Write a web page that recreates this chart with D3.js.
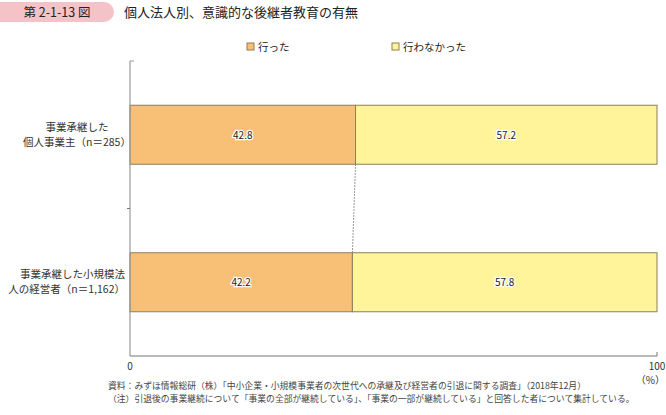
<!DOCTYPE html>
<html>
<head>
<meta charset="utf-8">
<script src="https://cdn.jsdelivr.net/npm/d3@7"></script>
<style>
  body { margin: 0; background: #fff; }
  text { font-family: "Noto Sans CJK JP", "Noto Sans", sans-serif; }
</style>
</head>
<body>
<svg width="666" height="415"></svg>
<script>
// chart data
const categories = [
    ["事業承継した", "個人事業主（n＝285）"],
    ["事業承継した小規模法", "人の経営者（n＝1,162）"]
];
const seriesNames = ["行った", "行わなかった"];
const didValues = [42.8, 42.2];
const didNotValues = [57.2, 57.8];
const xTicks = [0, 100];

const colors = ["#F8C077", "#FFF49A"];

const svg = d3.select("svg");

// title bar
svg.append("rect")
    .attr("x", -10).attr("y", 2)
    .attr("width", 124).attr("height", 20)
    .attr("rx", 10)
    .attr("fill", "#F4C3C8");
svg.append("text")
    .attr("x", 57).attr("y", 17)
    .attr("text-anchor", "middle")
    .style("font-size", "12.5px")
    .attr("fill", "#222")
    .text("第 2-1-13 図");
svg.append("text")
    .attr("x", 124).attr("y", 17)
    .style("font-size", "13px")
    .attr("fill", "#222")
    .text("個人法人別、意識的な後継者教育の有無");

const x = d3.scaleLinear().domain([0, 100]).range([130, 657]);
const y = d3.scaleBand().domain(d3.range(categories.length)).range([61, 356]).paddingInner(0.6).paddingOuter(0.3);

const stacked = didValues.map((d, i) => [
    { x0: 0, x1: d, v: d, s: 0 },
    { x0: d, x1: d + didNotValues[i], v: didNotValues[i], s: 1 }
]);

// connector lines between bars
for (let i = 0; i < categories.length - 1; i++) {
    svg.append("line")
        .attr("x1", x(didValues[i])).attr("y1", y(i) + y.bandwidth())
        .attr("x2", x(didValues[i + 1])).attr("y2", y(i + 1))
        .attr("stroke", "#777")
        .attr("stroke-width", 1)
        .attr("stroke-dasharray", "1.5,1.5");
}

const groups = svg.selectAll(".bar")
    .data(stacked)
    .enter().append("g")
    .attr("class", "bar");

groups.selectAll("rect")
    .data((d, i) => d.map(s => Object.assign({ row: i }, s)))
    .enter().append("rect")
    .attr("x", d => x(d.x0))
    .attr("y", d => y(d.row))
    .attr("width", d => x(d.x1) - x(d.x0))
    .attr("height", y.bandwidth())
    .attr("fill", d => colors[d.s])
    .attr("stroke", "#8C7F5C")
    .attr("stroke-width", 1);

groups.selectAll("text")
    .data((d, i) => d.map(s => Object.assign({ row: i }, s)))
    .enter().append("text")
    .attr("x", d => (x(d.x0) + x(d.x1)) / 2)
    .attr("y", d => y(d.row) + y.bandwidth() / 2 + 4)
    .attr("text-anchor", "middle")
    .style("font-size", "10px")
    .attr("fill", "#222")
    .attr("stroke", "#fff")
    .attr("stroke-width", 2.5)
    .attr("paint-order", "stroke")
    .text(d => d.v.toFixed(1));

// axes
svg.append("line")
    .attr("x1", 130).attr("x2", 130)
    .attr("y1", 61).attr("y2", 356)
    .attr("stroke", "#999").attr("stroke-width", 1.2);
svg.append("line")
    .attr("x1", 130).attr("x2", 134)
    .attr("y1", 61).attr("y2", 61)
    .attr("stroke", "#999");
svg.append("line")
    .attr("x1", 130).attr("x2", 657)
    .attr("y1", 356).attr("y2", 356)
    .attr("stroke", "#777").attr("stroke-width", 1.2);
svg.append("line")
    .attr("x1", 657).attr("x2", 657)
    .attr("y1", 352).attr("y2", 356)
    .attr("stroke", "#777");
// tick between categories
const midY = (y(0) + y.bandwidth() + y(1)) / 2;
svg.append("line")
    .attr("x1", 127).attr("x2", 130)
    .attr("y1", midY).attr("y2", midY)
    .attr("stroke", "#777");

svg.selectAll(".xtick")
    .data(xTicks)
    .enter().append("text")
    .attr("class", "xtick")
    .attr("x", d => x(d))
    .attr("y", 370)
    .attr("text-anchor", "middle")
    .style("font-size", "10px")
    .attr("fill", "#333")
    .text(d => d);
svg.append("text")
    .attr("x", 665).attr("y", 384)
    .attr("text-anchor", "end")
    .style("font-size", "10px")
    .attr("fill", "#333")
    .text("（%）");

// category labels
categories.forEach((lines, i) => {
    const cy = y(i) + y.bandwidth() / 2;
    lines.forEach((t, j) => {
        const txt = svg.append("text")
            .attr("y", cy - 8 + j * 15 + 4)
            .style("font-size", "10.5px")
            .attr("fill", "#333")
            .text(t);
        if (i === 0) {
            txt.attr("x", 77).attr("text-anchor", "middle");
        } else {
            txt.attr("x", 125).attr("text-anchor", "end");
        }
    });
});

// legend
const legendX = [247, 392];
seriesNames.forEach((name, i) => {
    svg.append("rect")
        .attr("x", legendX[i]).attr("y", 43)
        .attr("width", 7).attr("height", 7)
        .attr("fill", colors[i])
        .attr("stroke", "#8C7F5C");
    svg.append("text")
        .attr("x", legendX[i] + 11).attr("y", 51)
        .style("font-size", "10.5px")
        .attr("fill", "#222")
        .text(name);
});

// notes
svg.append("text")
    .attr("x", 108).attr("y", 389)
    .style("font-size", "8.8px")
    .attr("fill", "#444")
    .text("資料：みずほ情報総研（株）「中小企業・小規模事業者の次世代への承継及び経営者の引退に関する調査」（2018年12月）");
svg.append("text")
    .attr("x", 108).attr("y", 402)
    .style("font-size", "8.8px")
    .attr("fill", "#444")
    .text("（注）引退後の事業継続について「事業の全部が継続している」、「事業の一部が継続している」と回答した者について集計している。");
</script>
</body>
</html>
